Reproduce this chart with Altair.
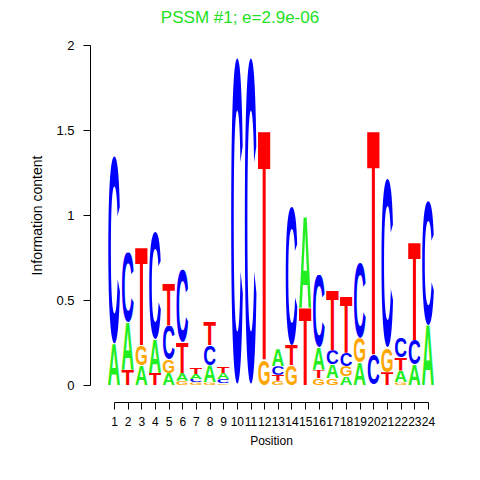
import base64
import altair as alt
import pandas as pd

# ---- data (bits per letter per position) ----
positions = list(range(1, 25))
A = [0.24, 0.28, 0.115, 0.195, 0.07, 0.045, 0.03, 0.10, 0.035, 0, 0, 0,
     0.10, 0, 0.535, 0.13, 0.08, 0.05, 0.13, 0, 0, 0.07, 0.118, 0.353]
C = [1.11, 0.41, 0, 0.635, 0.20, 0.43, 0.02, 0.12, 0.025, 1.93, 1.93, 0,
     0.05, 0.82, 0, 0.43, 0.085, 0.08, 0.445, 0.18, 1.0, 0.12, 0.147, 0.735]
G = [0, 0, 0.12, 0, 0.08, 0.025, 0.015, 0.015, 0.01, 0, 0, 0.15,
     0.025, 0.115, 0, 0.04, 0.04, 0.06, 0.145, 0, 0.14, 0.015, 0, 0]
T = [0, 0.09, 0.575, 0.07, 0.25, 0.18, 0.035, 0.135, 0.04, 0, 0, 1.34,
     0.035, 0.12, 0.455, 0.05, 0.35, 0.33, 0, 1.31, 0.075, 0.075, 0.57, 0]
y_ticks = [0, 0.5, 1, 1.5, 2]
title_text = ["PSSM #1; e=2.9e-06"]

letter_colors = {"A": "#22EE22", "C": "#0000FF", "G": "#FFA500", "T": "#FF0000"}
# glyph box (top, height) in font units so that each letter fills its cell
glyph_box = {"A": (31.0, 69.0), "T": (31.0, 69.0), "C": (29.8, 71.5), "G": (29.8, 71.5)}
FONT = "Liberation Sans"


def glyph_uri(letter, color):
    top, h = glyph_box[letter]
    svg = (
        f'<svg xmlns="http://www.w3.org/2000/svg" width="70" height="{h}" '
        f'viewBox="0 {top} 70 {h}" preserveAspectRatio="none">'
        '<text x="0" y="100" font-family="Liberation Sans, Arial, Helvetica, sans-serif" '
        'font-weight="bold" font-size="100" textLength="70" lengthAdjust="spacingAndGlyphs" '
        f'fill="{color}">{letter}</text></svg>'
    )
    return "data:image/svg+xml;base64," + base64.b64encode(svg.encode()).decode()


rows = []
for letter, vals in (("A", A), ("C", C), ("G", G), ("T", T)):
    for p, h in zip(positions, vals):
        if h > 0:
            rows.append({"pos": p, "letter": letter, "bits": h,
                         "url": glyph_uri(letter, letter_colors[letter])})
df = pd.DataFrame(rows)

x_axis = alt.Axis(
    values=positions, format="d", title="Position", offset=17, tickSize=7,
    labelPadding=7, titlePadding=8, labelOverlap=False, labelFlush=False,
    grid=False, labelFontSize=12, titleFontSize=12,
)
y_axis = alt.Axis(
    values=y_ticks, format="~g", title="Information content", offset=24,
    tickSize=7, labelPadding=9, titlePadding=11, grid=False, labelAngle=0,
    labelFontSize=13, titleFontSize=14,
)

logo = (
    alt.Chart(df)
    .transform_stack(
        stack="bits", groupby=["pos"], as_=["y0", "y1"],
        sort=[alt.SortField(field="bits", order="ascending")],
    )
    .transform_calculate(xl="datum.pos - 0.47", xr="datum.pos + 0.47")
    .mark_image(aspect=False)
    .encode(
        x=alt.X("xl:Q", scale=alt.Scale(domain=[1, 24], nice=False, zero=False), axis=x_axis),
        x2="xr:Q",
        y=alt.Y("y0:Q", scale=alt.Scale(domain=[0, 2], nice=False), axis=y_axis),
        y2="y1:Q",
        url="url:N",
    )
)

title = (
    alt.Chart(pd.DataFrame({"t": title_text}))
    .mark_text(font=FONT, fontSize=17, color="#22E022", align="center",
               baseline="alphabetic", clip=False)
    .encode(text="t:N", x=alt.value(126), y=alt.value(-22))
)

chart = (
    alt.layer(logo, title)
    .properties(
        width=314,
        height=340,
        autosize=alt.AutoSizeParams(type="none"),
        padding={"left": 106, "top": 37, "right": 30, "bottom": 85},
    )
    .configure_view(stroke=None)
    .configure_axis(
        labelFont=FONT, titleFont=FONT,
        titleFontWeight="normal", labelColor="black", titleColor="black",
        domainColor="black", tickColor="black", domainWidth=1, tickWidth=1,
    )
)

chart.save("out.html", embed_options={"renderer": "svg", "actions": False})
